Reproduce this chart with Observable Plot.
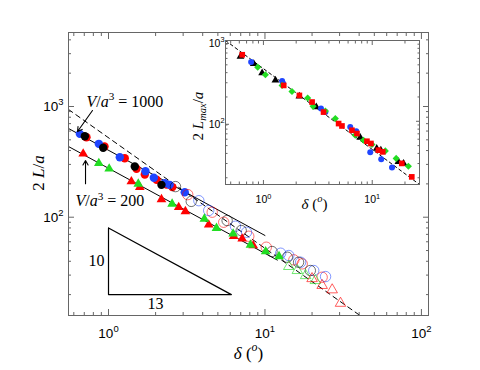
<!DOCTYPE html>
<html><head><meta charset="utf-8">
<script src="https://cdn.jsdelivr.net/npm/d3@7"></script>
<script src="https://cdn.jsdelivr.net/npm/@observablehq/plot@0.6"></script>
<style>
body{margin:0;background:#fff}
#wrap{position:relative;width:480px;height:370px;overflow:hidden}
#wrap svg{display:block}
#insetBox{position:absolute;left:185px;top:32px}
</style></head><body><div id="wrap"><div id="mainBox"></div><div id="insetBox"></div></div>
<script>
// ---------- main panel data: [delta (deg), 2L/a] ----------
const mainRedFilled   = [[0.723,528],[0.943,435],[1.27,341],[1.51,274],[1.706,243],[2.03,218],[2.35,197],[2.56,187]];
const mainBlueFilled  = [[0.656,566],[0.867,460],[1.181,348],[1.723,260],[1.948,227],[2.29,203],[2.46,196],[3.07,168]];
const mainBlackFilled = [[0.706,539],[0.925,424],[1.472,287],[2.18,196]];
const mainRedOpen     = [[3.21,160],[4.60,111],[5.45,90.1],[7.88,67.3],[10.2,53.6],[15.3,41.2],[17.3,37.9],[23.2,28.7]];
const mainBlueOpen    = [[3.78,141],[4.37,115],[6.48,82.9],[7.62,73.2],[12.6,47.3],[14.2,45.1],[16.9,39.2],[20.5,33.0],[24.4,29.1]];
const mainBlackOpen   = [[2.68,189],[3.38,139],[5.73,93.4],[7.05,75.8],[11.1,49.0],[13.9,43.5],[16.4,39.2],[19.5,33.0]];
const mainRedTri      = [[0.689,374],[1.40,210],[1.585,187],[2.18,145],[2.81,123],[3.10,113],[4.37,85.4],[6.31,67.3],[7.15,63.8],[8.41,55.5]];
const mainGreenTri    = [[0.867,307],[1.01,274],[1.55,200],[2.55,132],[4.10,96.7],[4.90,79.6],[6.26,70.8],[8.08,56.3],[10.1,49.0],[12.3,44.2]];
const mainGreenTriOpen= [[14.2,35.9],[16.1,33.0],[18.2,29.7],[21.0,26.8]];
const mainRedTriOpen  = [[20.0,27.9],[23.2,24.2],[26.9,22.1],[30.4,16.7]];
// fit lines (end points)
const dashedFit = [[0.555,940],[40.5,12.95]];
const upperFit  = [[0.555,633],[10,68.4]];
const lowerFit  = [[0.555,435],[12,41.0]];
const slopeTriangle = [[1,80],[1,20],[6.1,20],[1,80]];
const slopeLabels = [{x:1,y:40,text:"10"},{x:2.0,y:20,text:"13"}];
const annotations = [{x:0.723,y:1000,text:"$V/a^{3} = 1000"},{x:0.615,y:125,text:"$V/a^{3} = 200"}];
const arrowUpper = [{x1:0.79,y1:920,x2:0.634,y2:594}];
const arrowLower = [{x1:0.713,y1:201,x2:0.713,y2:325}];
// ticks
const mainXMajor = [1,10,100];
const mainXMinor = [0.6,0.7,0.8,0.9,2,3,4,5,6,7,8,9,20,30,40,50,60,70,80,90];
const mainYMajor = [100,1000];
const mainYMinor = [20,30,40,50,60,70,80,90,200,300,400,500,600,700,800,900,2000,3000,4000];

// ---------- inset data: [delta, 2Lmax/a] ----------
const insetRed   = [[0.638,666],[1.536,278],[2.14,209],[2.80,173],[3.57,130],[4.91,93.7],[5.27,87.5],[6.51,77.4],[7.24,70.5],[8.94,56.6],[9.73,53.1],[11.4,43.9],[12.5,41.8],[18.7,30.1],[23.1,20.5]];
const insetBlue  = [[0.771,540],[1.485,315],[1.517,294],[3.38,144],[3.71,130],[6.28,85.1],[7.13,75.3],[9.59,41.4],[12.1,34.0],[15.2,26.8]];
const insetGreen = [[0.886,468],[1.043,377],[1.485,278],[1.83,234],[2.55,194],[2.86,153],[3.71,134],[4.58,108],[6.98,67.2],[8.32,58.3],[9.94,51.6],[13.2,43.0],[16.6,34.7],[21.5,27.8]];
const insetBlack = [[0.615,635],[0.815,516],[0.973,395],[1.289,321],[2.14,204],[3.06,150],[7.76,62.9],[11.0,46.0],[12.0,43.9],[17.4,31.5],[19.4,30.1]];
const insetFit = [[0.448,1000],[27.2,16.5]];
const insetXMajor = [1,10];
const insetXMinor = [0.5,0.6,0.7,0.8,0.9,2,3,4,5,6,7,8,9,20];
const insetYMajor = [100,1000];
const insetYMinor = [20,30,40,50,60,70,80,90,200,300,400,500,600,700,800,900];

const RED="#ff0000", BLUE="#1f45ff", GREEN="#22dd22", BLACK="#000";
const AX="#666";
const SERIF="Liberation Serif, Times New Roman, serif";
const pow = d => "10^{" + Math.round(Math.log10(d)) + "}";
const none = () => "";
const X = d => d[0], Y = d => d[1];

function boxAxes(xMaj, xMin, yMaj, yMin, big, small, xPad, yPad, yDy) {
  return [
    Plot.axisX(xMaj, {anchor:"bottom", tickSize:-big, tickPadding:xPad, tickFormat:pow, stroke:AX, label:null}),
    Plot.axisX(xMin, {anchor:"bottom", tickSize:-small, tickFormat:none, stroke:AX, label:null}),
    Plot.axisX(xMaj, {anchor:"top", tickSize:-big, tickFormat:none, stroke:AX, label:null}),
    Plot.axisX(xMin, {anchor:"top", tickSize:-small, tickFormat:none, stroke:AX, label:null}),
    Plot.axisY(yMaj, {anchor:"left", tickSize:-big, tickPadding:yPad, dy:yDy, tickFormat:pow, stroke:AX, label:null}),
    Plot.axisY(yMin, {anchor:"left", tickSize:-small, tickFormat:none, stroke:AX, label:null}),
    Plot.axisY(yMaj, {anchor:"right", tickSize:-big, tickFormat:none, stroke:AX, label:null}),
    Plot.axisY(yMin, {anchor:"right", tickSize:-small, tickFormat:none, stroke:AX, label:null}),
    Plot.frame({stroke:AX})
  ];
}

const main = Plot.plot({
  width:480, height:370,
  marginLeft:68, marginRight:52, marginTop:32, marginBottom:55,
  x:{type:"log", domain:[0.555,111]},
  y:{type:"log", domain:[12.95,4660]},
  style:{fontFamily:"Liberation Sans, Arial, sans-serif", fontSize:"13.5px", background:"transparent", overflow:"visible"},
  marks:[
    Plot.line(dashedFit, {x:X, y:Y, stroke:BLACK, strokeWidth:1, strokeDasharray:"5,4"}),
    Plot.line(upperFit, {x:X, y:Y, stroke:BLACK, strokeWidth:1}),
    Plot.line(lowerFit, {x:X, y:Y, stroke:BLACK, strokeWidth:1}),
    Plot.line(slopeTriangle, {x:X, y:Y, stroke:BLACK, strokeWidth:1.2}),
    Plot.text(slopeLabels.slice(0,1), {x:"x", y:"y", text:"text", textAnchor:"end", dx:-4, fontFamily:SERIF, fontSize:16}),
    Plot.text(slopeLabels.slice(1), {x:"x", y:"y", text:"text", lineAnchor:"top", dy:3, fontFamily:SERIF, fontSize:16}),
    Plot.dot(mainRedFilled, {x:X, y:Y, r:4.2, fill:RED}),
    Plot.dot(mainBlueFilled, {x:X, y:Y, r:4.2, fill:BLUE}),
    Plot.dot(mainBlackFilled, {x:X, y:Y, r:4.2, fill:BLACK}),
    Plot.dot(mainRedOpen, {x:X, y:Y, r:5.2, stroke:RED, strokeWidth:0.8, strokeOpacity:0.7}),
    Plot.dot(mainBlueOpen, {x:X, y:Y, r:5.2, stroke:BLUE, strokeWidth:0.8, strokeOpacity:0.7}),
    Plot.dot(mainBlackOpen, {x:X, y:Y, r:5.2, stroke:BLACK, strokeWidth:0.8, strokeOpacity:0.7}),
    Plot.dot(mainRedTri, {x:X, y:Y, r:3.6, symbol:"triangle", fill:RED}),
    Plot.dot(mainGreenTri, {x:X, y:Y, r:3.6, symbol:"triangle", fill:GREEN}),
    Plot.dot(mainGreenTriOpen, {x:X, y:Y, r:3.9, symbol:"triangle", stroke:GREEN, fill:"none", strokeWidth:0.8, strokeOpacity:0.8}),
    Plot.dot(mainRedTriOpen, {x:X, y:Y, r:3.9, symbol:"triangle", stroke:RED, fill:"none", strokeWidth:0.8, strokeOpacity:0.8}),
    Plot.arrow(arrowUpper, {x1:"x1", y1:"y1", x2:"x2", y2:"y2", stroke:BLACK, strokeWidth:1.1, headLength:7}),
    Plot.arrow(arrowLower, {x1:"x1", y1:"y1", x2:"x2", y2:"y2", stroke:BLACK, strokeWidth:1.1, headLength:7}),
    Plot.text(annotations, {x:"x", y:"y", text:"text", textAnchor:"start", lineAnchor:"bottom", fontFamily:SERIF, fontSize:16}),
    ...boxAxes(mainXMajor, mainXMinor, mainYMajor, mainYMinor, 6, 3, 18.5, 11, 0),
    Plot.text(["$δ (^{o})"], {frameAnchor:"bottom", textAnchor:"middle", dy:43, lineAnchor:"bottom", fontFamily:SERIF, fontSize:17}),
    Plot.text(["$2 L/a"], {frameAnchor:"left", textAnchor:"middle", lineAnchor:"middle", dx:-30, rotate:-90, fontFamily:SERIF, fontSize:17})
  ]
});

const inset = Plot.plot({
  width:244, height:182,
  marginLeft:40, marginRight:10, marginTop:8, marginBottom:30,
  x:{type:"log", domain:[0.448,27.2]},
  y:{type:"log", domain:[16.5,1000]},
  style:{fontFamily:"Liberation Sans, Arial, sans-serif", fontSize:"10.5px", background:"transparent", overflow:"visible"},
  marks:[
    Plot.frame({fill:"white"}),
    Plot.line(insetFit, {x:X, y:Y, stroke:BLACK, strokeWidth:1, strokeDasharray:"3,3"}),
    Plot.dot(insetBlack, {x:X, y:Y, r:2.9, symbol:"triangle", fill:BLACK}),
    Plot.dot(insetBlue, {x:X, y:Y, r:3, fill:BLUE}),
    Plot.dot(insetGreen, {x:X, y:Y, r:3.2, symbol:"diamond2", fill:GREEN}),
    Plot.dot(insetRed, {x:X, y:Y, r:3.2, symbol:"square", fill:RED}),
    ...boxAxes(insetXMajor, insetXMinor, insetYMajor, insetYMinor, 4, 2.5, 15, 5, 3),
    Plot.text(["$δ (^{o})"], {frameAnchor:"bottom", textAnchor:"middle", dy:24, dx:-8, lineAnchor:"bottom", fontFamily:SERIF, fontSize:15}),
    Plot.text(["$2 L_{max}/a"], {frameAnchor:"left", textAnchor:"middle", lineAnchor:"middle", dx:-27, dy:4, rotate:-90, fontFamily:SERIF, fontSize:15})
  ]
});

document.getElementById("mainBox").appendChild(main);
document.getElementById("insetBox").appendChild(inset);

// typeset super/subscripts and math italics as real SVG text
const SVGNS = "http://www.w3.org/2000/svg";
function texify(svg) {
  svg.querySelectorAll("text").forEach(el => {
    if (el.querySelector("tspan")) return;
    let s = el.textContent;
    const math = s.startsWith("$");
    if (!math && !/[\^_]\{/.test(s)) return;
    if (math) s = s.slice(1);
    const fs = parseFloat(getComputedStyle(el).fontSize) || 12;
    el.textContent = "";
    el.style.whiteSpace = "pre";
    let shift = 0;
    const add = (str, italic, level) => {
      if (!str) return;
      const t = document.createElementNS(SVGNS, "tspan");
      t.textContent = str;
      const target = level > 0 ? -0.42 * fs : level < 0 ? 0.25 * fs : 0;
      if (target !== shift) { t.setAttribute("dy", (target - shift).toFixed(2)); shift = target; }
      if (level) t.setAttribute("font-size", (0.7 * fs).toFixed(2));
      if (italic) t.setAttribute("font-style", "italic");
      el.appendChild(t);
    };
    const isLetter = c => /[A-Za-zδ]/.test(c);
    const emit = (str, level) => {
      if (!math) { add(str, false, level); return; }
      let buf = "", it = null;
      for (const c of str) {
        const li = isLetter(c);
        if (it === null) it = li;
        if (li !== it && c !== " ") { add(buf, it, level); buf = ""; it = li; }
        buf += c;
      }
      add(buf, it, level);
    };
    let plain = "", i = 0;
    while (i < s.length) {
      const c = s[i];
      if ((c === "^" || c === "_") && s[i + 1] === "{") {
        emit(plain, 0); plain = "";
        const j = s.indexOf("}", i);
        emit(s.slice(i + 2, j), c === "^" ? 1 : -1);
        i = j + 1;
      } else { plain += c; i++; }
    }
    emit(plain, 0);
  });
}
texify(main);
texify(inset);

// keep the rotated axis titles centred where the reference has them
function centerText(svg, content, cx, cy) {
  svg.querySelectorAll("text").forEach(el => {
    if (el.textContent !== content) return;
    const r = el.getBoundingClientRect();
    const dx = cx - (r.left + r.width / 2), dy = cy - (r.top + r.height / 2);
    if (Math.abs(dx) < 0.5 && Math.abs(dy) < 0.5) return;
    el.setAttribute("transform", `translate(${dx.toFixed(2)},${dy.toFixed(2)}) ` + (el.getAttribute("transform") || ""));
  });
}
centerText(main, "2 L/a", 38, 173);
centerText(inset, "2 Lmax/a", 199, 116);
</script></body></html>
